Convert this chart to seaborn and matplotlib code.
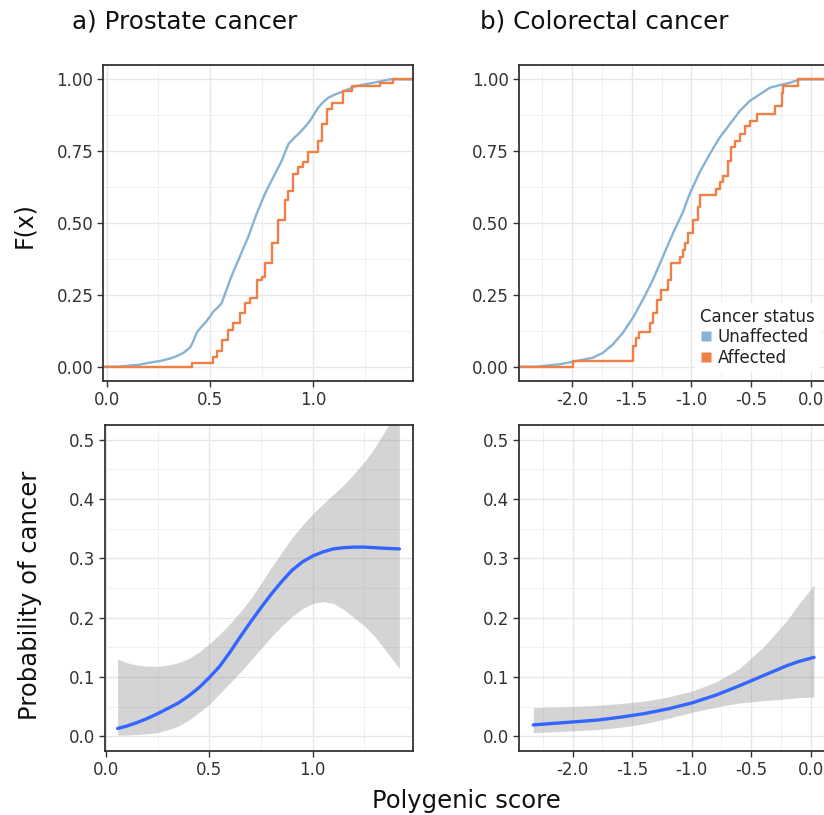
import numpy as np
import pandas as pd
import matplotlib
matplotlib.use("Agg")
import matplotlib.pyplot as plt
import seaborn as sns
from matplotlib.ticker import MultipleLocator, FormatStrFormatter
from matplotlib.lines import Line2D

sns.set_theme(style="whitegrid")
plt.rcParams["font.family"] = ["DejaVu Sans"]
plt.rcParams["axes.unicode_minus"] = False

# ---------------- data ----------------
panel_titles = ["a) Prostate cancer", "b) Colorectal cancer"]
status_labels = ["Unaffected", "Affected"]
status_colors = ["#86B3D3", "#F07F45"]

# Prostate ECDF (score, F(x))
pros_unaff_x = [-0.05, 0.05, 0.15, 0.21, 0.26, 0.306, 0.34, 0.371, 0.403, 0.42, 0.435, 0.455,
                0.476, 0.496, 0.516, 0.536, 0.556, 0.577, 0.597, 0.617, 0.637, 0.661, 0.685,
                0.706, 0.726, 0.746, 0.766, 0.79, 0.814, 0.847, 0.879, 0.905, 0.935, 0.96,
                0.984, 1.004, 1.024, 1.048, 1.072, 1.1, 1.129, 1.17, 1.209, 1.25, 1.29,
                1.33, 1.371, 1.6]
pros_unaff_F = [0.0, 0.0, 0.006, 0.014, 0.02, 0.028, 0.037, 0.048, 0.066, 0.09, 0.118, 0.136,
                0.152, 0.171, 0.192, 0.205, 0.221, 0.262, 0.302, 0.338, 0.371, 0.412, 0.452,
                0.494, 0.533, 0.568, 0.602, 0.637, 0.671, 0.717, 0.775, 0.795, 0.815, 0.835,
                0.856, 0.880, 0.902, 0.921, 0.936, 0.946, 0.954, 0.966, 0.977, 0.983, 0.988,
                0.994, 1.0, 1.0]
pros_aff_x = [-0.05, 0.411, 0.516, 0.532, 0.556, 0.588, 0.612, 0.645, 0.669, 0.693, 0.726,
              0.750, 0.766, 0.798, 0.830, 0.863, 0.879, 0.903, 0.927, 0.951, 0.975,
              1.024, 1.040, 1.064, 1.089, 1.145, 1.185, 1.322, 1.387, 1.6]
pros_aff_F = [0.0, 0.014, 0.035, 0.054, 0.094, 0.129, 0.152, 0.187, 0.221, 0.239, 0.302,
              0.313, 0.360, 0.429, 0.510, 0.579, 0.613, 0.671, 0.694, 0.711, 0.746,
              0.787, 0.844, 0.896, 0.919, 0.960, 0.977, 0.988, 1.0, 1.0]

# Colorectal ECDF (score, F(x))
colo_unaff_x = [-2.6, -2.3, -2.107, -1.995, -1.827, -1.743, -1.659, -1.575, -1.491, -1.407,
                -1.323, -1.239, -1.155, -1.071, -1.014, -0.93, -0.846, -0.762, -0.678,
                -0.594, -0.51, -0.426, -0.342, -0.258, -0.174, -0.09, 0.3]
colo_unaff_F = [0.0, 0.0, 0.008, 0.017, 0.031, 0.048, 0.077, 0.118, 0.17, 0.233,
                0.302, 0.383, 0.464, 0.538, 0.602, 0.677, 0.74, 0.798, 0.844,
                0.89, 0.925, 0.948, 0.971, 0.98, 0.988, 1.0, 1.0]
colo_aff_x = [-2.6, -1.995, -1.491, -1.468, -1.44, -1.35, -1.323, -1.289, -1.252, -1.197,
              -1.168, -1.098, -1.07, -1.05, -1.028, -0.986, -0.944, -0.924, -0.79, -0.762,
              -0.734, -0.692, -0.664, -0.636, -0.594, -0.552, -0.51, -0.454, -0.3, -0.244,
              -0.23, -0.104, 0.3]
colo_aff_F = [0.0, 0.019, 0.071, 0.10, 0.12, 0.152, 0.187, 0.233, 0.267, 0.302,
              0.36, 0.383, 0.406, 0.43, 0.464, 0.51, 0.556, 0.598, 0.619, 0.642,
              0.665, 0.717, 0.763, 0.787, 0.81, 0.838, 0.856, 0.881, 0.908, 0.954,
              0.977, 1.0, 1.0]

# Smoothed probability of cancer with confidence band
pros_fit_x = [0.056, 0.10, 0.15, 0.20, 0.25, 0.30, 0.35, 0.40, 0.45, 0.50, 0.55, 0.60,
              0.65, 0.70, 0.75, 0.80, 0.85, 0.90, 0.95, 1.00, 1.05, 1.10, 1.15, 1.20,
              1.25, 1.30, 1.35, 1.419]
pros_fit = [0.013, 0.017, 0.023, 0.030, 0.038, 0.047, 0.056, 0.068, 0.082, 0.099, 0.118,
            0.142, 0.168, 0.193, 0.217, 0.240, 0.261, 0.280, 0.294, 0.304, 0.311, 0.316,
            0.318, 0.319, 0.319, 0.318, 0.317, 0.316]
pros_hi = [0.130, 0.124, 0.120, 0.118, 0.118, 0.120, 0.124, 0.131, 0.142, 0.156, 0.172,
           0.190, 0.210, 0.232, 0.258, 0.285, 0.310, 0.335, 0.356, 0.375, 0.392, 0.408,
           0.424, 0.443, 0.463, 0.487, 0.515, 0.555]
pros_lo = [0.002, 0.002, 0.003, 0.004, 0.006, 0.011, 0.017, 0.027, 0.040, 0.054, 0.072,
           0.090, 0.108, 0.128, 0.148, 0.168, 0.186, 0.202, 0.215, 0.224, 0.227, 0.224,
           0.214, 0.200, 0.186, 0.168, 0.146, 0.114]

colo_fit_x = [-2.331, -2.2, -2.0, -1.8, -1.6, -1.4, -1.2, -1.0, -0.8, -0.6, -0.4, -0.2,
              -0.1, 0.028]
colo_fit = [0.019, 0.021, 0.024, 0.027, 0.032, 0.038, 0.046, 0.056, 0.069, 0.085, 0.102,
            0.119, 0.126, 0.133]
colo_hi = [0.048, 0.049, 0.050, 0.052, 0.055, 0.059, 0.066, 0.076, 0.091, 0.114, 0.150,
           0.195, 0.223, 0.255]
colo_lo = [0.006, 0.007, 0.009, 0.011, 0.015, 0.021, 0.030, 0.040, 0.049, 0.056, 0.060,
           0.063, 0.065, 0.066]

# ---------------- figure ----------------
W, H = 824, 815
fig = plt.figure(figsize=(W / 100, H / 100), dpi=100)
fig.patch.set_facecolor("white")


def add_ax(l, t, r, b):
    return fig.add_axes([l / W, 1 - b / H, (r - l) / W, (b - t) / H])


ax_tl = add_ax(103, 65, 413, 381)
ax_tr = add_ax(518.5, 65, 829, 381)
ax_bl = add_ax(105, 425, 413, 751)
ax_br = add_ax(519, 425, 829, 751)


def style(ax, xmaj, ymaj, yfmt):
    ax.set_facecolor("white")
    ax.xaxis.set_major_locator(MultipleLocator(xmaj))
    ax.xaxis.set_minor_locator(MultipleLocator(xmaj / 2))
    ax.yaxis.set_major_locator(MultipleLocator(ymaj))
    ax.yaxis.set_minor_locator(MultipleLocator(ymaj / 2))
    ax.xaxis.set_major_formatter(FormatStrFormatter("%.1f"))
    ax.yaxis.set_major_formatter(FormatStrFormatter(yfmt))
    ax.grid(True, which="major", color="#E6E6E6", lw=1.0)
    ax.grid(True, which="minor", color="#F0F0F0", lw=0.7)
    ax.set_axisbelow(True)
    for s in ax.spines.values():
        s.set_color("#333333")
        s.set_linewidth(1.3)
        s.set_visible(True)
    ax.tick_params(which="major", length=4, width=1.0, color="#333333",
                   labelsize=12, labelcolor="#333333", pad=3,
                   bottom=True, left=True)
    ax.tick_params(which="minor", length=0)
    ax.set_xlabel("")
    ax.set_ylabel("")


# ECDF panels
for ax, ux, uF, ax_, aF in [(ax_tl, pros_unaff_x, pros_unaff_F, pros_aff_x, pros_aff_F),
                            (ax_tr, colo_unaff_x, colo_unaff_F, colo_aff_x, colo_aff_F)]:
    du = pd.DataFrame({"score": ux, "F": uF})
    da = pd.DataFrame({"score": ax_, "F": aF})
    sns.lineplot(data=du, x="score", y="F", ax=ax, color=status_colors[0], lw=1.7,
                 estimator=None, sort=False)
    sns.lineplot(data=da, x="score", y="F", ax=ax, color=status_colors[1], lw=1.7,
                 estimator=None, sort=False, drawstyle="steps-post")
    ax.set_ylim(-0.05, 1.05)

ax_tl.set_xlim(-0.018, 1.482)
ax_tr.set_xlim(-2.45, 0.154)
style(ax_tl, 0.5, 0.25, "%.2f")
style(ax_tr, 0.5, 0.25, "%.2f")

# smooth panels
for ax, fx, fy, lo, hi in [(ax_bl, pros_fit_x, pros_fit, pros_lo, pros_hi),
                           (ax_br, colo_fit_x, colo_fit, colo_lo, colo_hi)]:
    df = pd.DataFrame({"score": fx, "prob": fy, "lo": lo, "hi": hi})
    ax.fill_between(df["score"], df["lo"], df["hi"], color="#999999", alpha=0.42, lw=0)
    sns.lineplot(data=df, x="score", y="prob", ax=ax, color="#3366FF", lw=2.4,
                 estimator=None)
    ax.set_ylim(-0.025, 0.525)

ax_bl.set_xlim(-0.005, 1.485)
ax_br.set_xlim(-2.451, 0.154)
style(ax_bl, 0.5, 0.1, "%.1f")
style(ax_br, 0.5, 0.1, "%.1f")

# legend
handles = [Line2D([0], [0], marker="s", color="none", markerfacecolor=c,
                  markeredgecolor="none", markersize=7.5, linestyle="")
           for c in status_colors]
leg = ax_tr.legend(handles, status_labels, title="Cancer status", loc="lower left",
                   bbox_to_anchor=(0.57, 0.03), fontsize=12, title_fontsize=12,
                   frameon=True, facecolor="white", edgecolor="none", framealpha=1,
                   handlelength=0.7, handletextpad=0.35, labelspacing=0.15,
                   borderpad=0.3, borderaxespad=0.0)
leg._legend_box.align = "left"
for t in leg.get_texts():
    t.set_color("#222222")
leg.get_title().set_color("#222222")

# titles and axis labels
fig.text(72 / W, 1 - 22 / H, panel_titles[0], fontsize=17.7, va="center", ha="left",
         color="#111111")
fig.text(480 / W, 1 - 22 / H, panel_titles[1], fontsize=17.7, va="center", ha="left",
         color="#111111")
fig.text(24 / W, 1 - 225 / H, "F(x)", fontsize=17, rotation=90, va="center",
         ha="center", color="#111111")
fig.text(30 / W, 1 - 595 / H, "Probability of cancer", fontsize=17.5, rotation=90,
         va="center", ha="center", color="#111111")
fig.text(466 / W, 1 - 801 / H, "Polygenic score", fontsize=17.5, va="center",
         ha="center", color="#111111")

fig.savefig("out.png", dpi=100, facecolor="white")
